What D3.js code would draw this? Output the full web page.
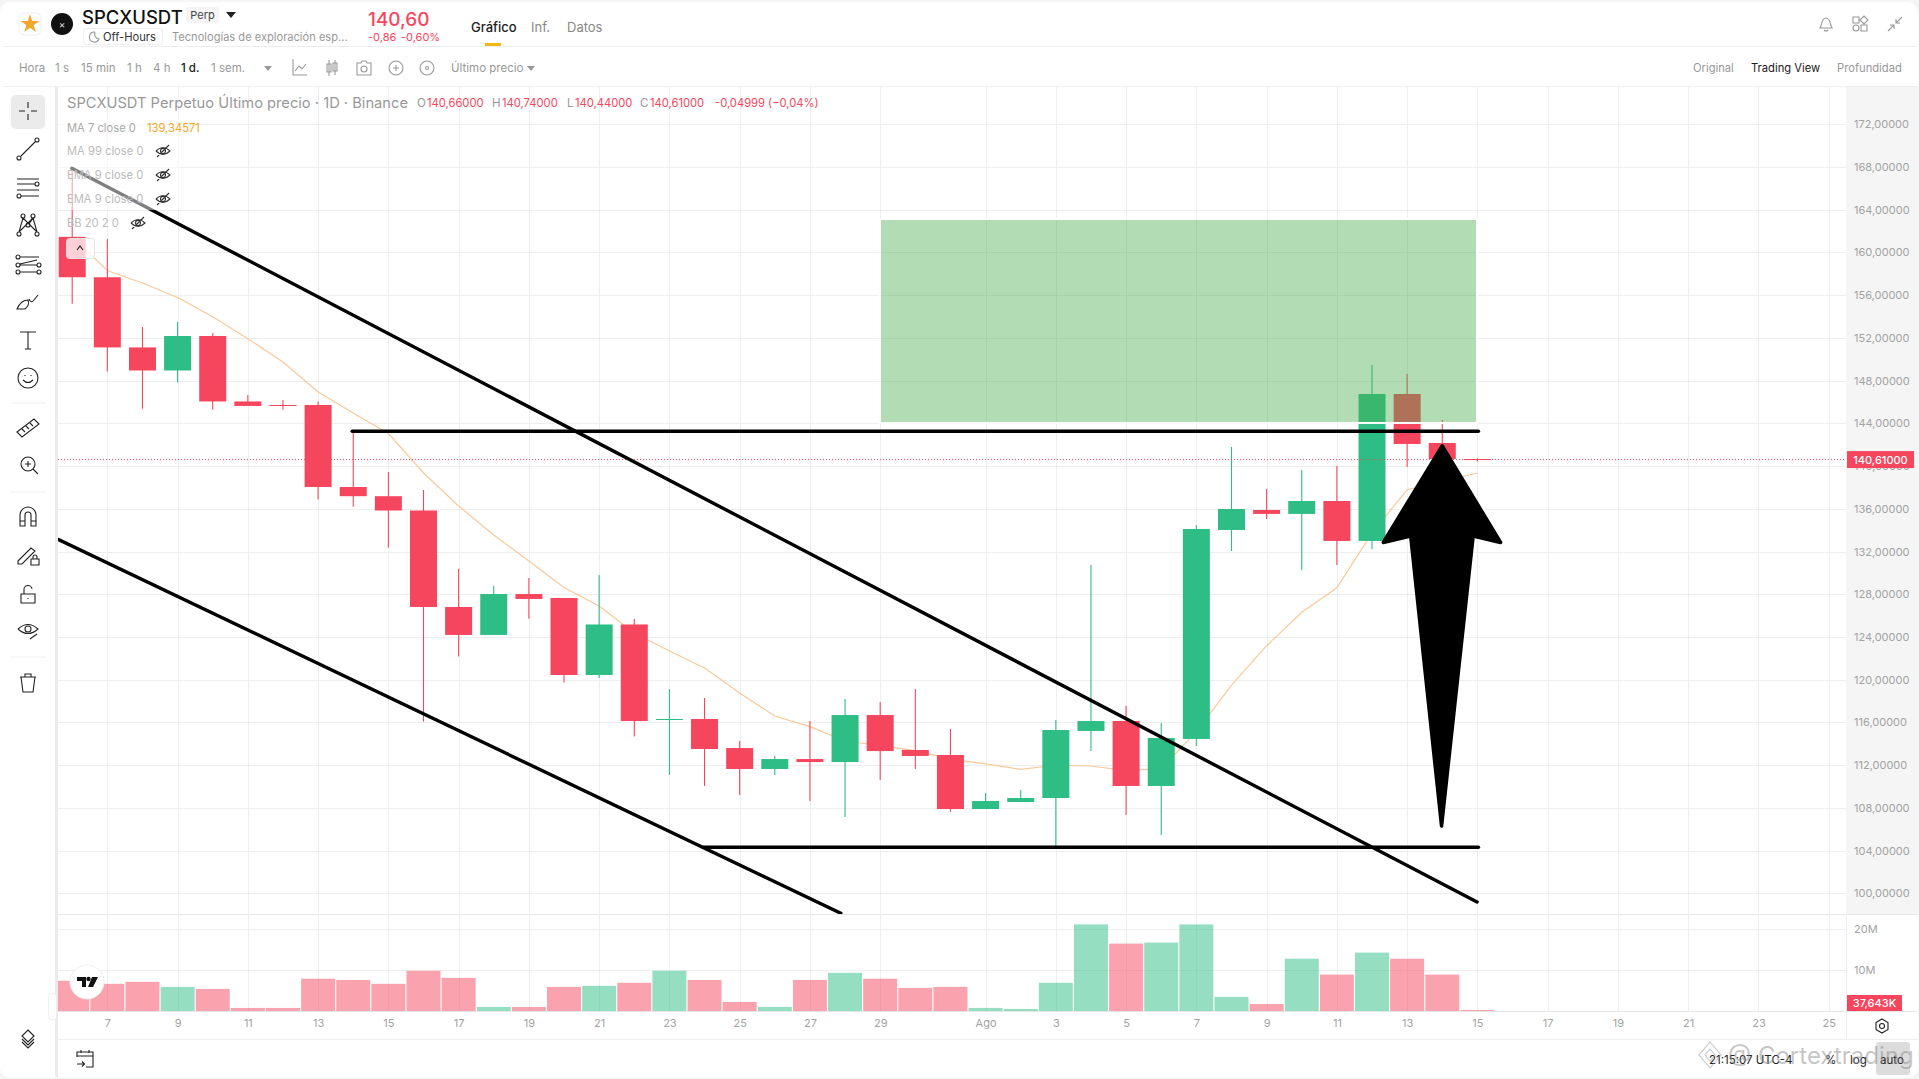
<!DOCTYPE html>
<html>
<head>
<meta charset="utf-8">
<style>
html, body { margin: 0; padding: 0; background: #f5f5f5; overflow: hidden; }
svg { display: block; font-family: Inter, Roboto, sans-serif; }
</style>
<script src="https://cdn.jsdelivr.net/npm/d3@7"></script>
</head>
<body>
<svg id="chart" width="1919" height="1079"></svg>
<script>
// candles, first one is Jul 6, last one is Aug 15
const open = [161.46,157.68,151.11,148.95,152.18,146.05,145.72,145.72,138.04,137.18,135.84,126.81,124.19,128.02,127.65,120.44,125.17,116.23,116.32,113.6,111.64,112.57,112.29,116.69,113.42,112.95,107.89,108.55,108.92,115.2,116.13,110.05,114.45,134.02,135.89,135.52,136.73,132.99,146.75,142.16,140.66];
const high = [167.7,161.27,153.02,153.49,152.46,146.66,146.19,146.05,143.29,139.45,137.76,130.38,128.77,129.52,127.65,129.8,125.68,119.13,118.29,114.26,112.86,116.13,118.19,117.91,119.13,115.38,109.39,109.67,116.23,130.74,117.54,115.95,134.48,141.79,137.86,139.64,140.01,149.47,148.62,144.32,140.74];
const low = [155.21,148.86,145.37,147.83,145.28,145.63,145.28,136.86,136.19,132.38,116.07,122.16,124.19,125.7,119.74,120.16,114.68,111.08,110.05,109.2,111.08,108.64,107.14,110.61,111.64,107.61,107.89,108.55,104.43,113.32,107.33,105.46,113.79,132.05,135.05,130.27,130.74,132.24,139.92,140.3,140.44];
const close = [157.68,151.11,148.95,152.18,146.05,145.63,145.63,138.04,137.18,135.84,126.81,124.19,128.02,127.56,120.44,125.17,116.13,116.32,113.51,111.64,112.57,112.29,116.69,113.32,112.86,107.89,108.64,108.92,115.29,116.13,110.05,114.54,134.11,135.98,135.52,136.73,132.99,146.75,142.07,140.66,140.61];
// volume in millions
const volume = [7.4,6.65,7.15,5.9,5.4,0.75,0.75,7.9,7.6,6.65,9.85,8.1,1,1,5.9,6.15,6.9,9.85,7.6,2.2,1,7.6,9.35,7.9,5.65,5.9,0.75,0.5,6.9,21.2,16.5,16.75,21.2,3.45,1.7,12.8,8.9,14.3,12.8,8.9,0.25];
const ma7 = [161.45,158.31,157.14,155.79,153.98,151.92,149.75,146.94,144.97,143.05,139.35,136.26,133.55,131.11,128.64,126.9,124.37,122.69,121.1,118.75,116.6,115.6,114.26,113.82,113.35,112.57,112.11,111.61,111.99,111.92,111.48,111.67,115.13,119.5,123.18,126.31,128.61,133.74,137.79,138.54,139.35];

// axis ticks, day index counted from Jul 6
const timeTickDays = [1,3,5,7,9,11,13,15,17,19,21,23,26,28,30,32,34,36,38,40,42,44,46,48,50];
const timeTickLabels = ['7','9','11','13','15','17','19','21','23','25','27','29','Ago','3','5','7','9','11','13','15','17','19','21','23','25'];
const priceTicks = [100,104,108,112,116,120,124,128,132,136,140,144,148,152,156,160,164,168,172];
const volumeTicks = [10,20];

// things drawn by hand on the chart, [day index, price]
const upperTrend = [[-0.01,167.88],[39.99,99.19]];
const lowerTrend = [[-0.39,133.12],[21.88,98.13]];
const resistance = [[7.97,143.26],[40.03,143.26]];
const support = [[17.96,104.31],[40.03,104.31]];
const targetZone = [[23.02,163.04],[39.96,144.13]];
const arrowShape = [[39,141.9],[40.66,132.85],[39.88,133.46],[38.98,106.3],[38.1,133.46],[37.32,132.85]];
const lastPrice = 140.61;

const RED = '#f6465d', GREEN = '#2ebd85', GRID = '#eeeeee', LABEL = '#a3a3a3';

const svg = d3.select('#chart');
const x = d3.scaleLinear().domain([0, 50]).range([72.2, 1828.7]);
const y = d3.scaleLinear().domain([100, 172]).range([893.3, 124.3]);
const yVol = d3.scaleLinear().domain([0, 20]).range([1011, 929.3]);
const bodyW = 27, volW = 34;
const days = d3.range(open.length);

// plain text helper, used for all the page chrome
function label(g, px, py, str, opts) {
    opts = opts || {};
    return g.append('text')
        .attr('x', px).attr('y', py)
        .attr('fill', opts.fill || '#999')
        .attr('font-size', opts.size || 11.5)
        .attr('font-weight', opts.weight || 400)
        .attr('text-anchor', opts.anchor || 'start')
        .attr('dominant-baseline', 'central')
        .text(str);
}
// stroked icon from a path string, placed with its own transform
function icon(g, tx, ty, d, color) {
    g.append('path')
        .attr('transform', `translate(${tx},${ty})`)
        .attr('d', d)
        .attr('fill', 'none')
        .attr('stroke', color || '#222')
        .attr('stroke-width', 1.1);
}
// little ring used on the drawing tools
function ring(cx, cy) {
    return `M${cx + 2},${cy} a2,2 0 1 1 -4,0 a2,2 0 1 1 4,0 `;
}

// card background and panel separators
svg.append('rect').attr('x', 0).attr('y', 2).attr('width', 1918).attr('height', 1076).attr('rx', 10).attr('fill', '#fff');
svg.append('rect').attr('x', 1846).attr('y', 87).attr('width', 72).attr('height', 827).attr('fill', '#f5f5f5');
svg.append('rect').attr('x', 55).attr('y', 87).attr('width', 3).attr('height', 990).attr('fill', '#ebebeb');
[46, 86, 1039].forEach(v => svg.append('line').attr('x1', v == 1039 ? 58 : 2).attr('x2', 1917).attr('y1', v + .5).attr('y2', v + .5).attr('stroke', GRID));
[914, 1011].forEach(v => svg.append('line').attr('x1', 58).attr('x2', 1917).attr('y1', v + .5).attr('y2', v + .5).attr('stroke', '#e6e6e6'));
svg.append('line').attr('x1', 1846.5).attr('x2', 1846.5).attr('y1', 914).attr('y2', 1039).attr('stroke', GRID);

const defs = svg.append('defs');
defs.append('clipPath').attr('id', 'mainClip').append('rect').attr('x', 58).attr('y', 87).attr('width', 1788).attr('height', 827);
defs.append('clipPath').attr('id', 'volClip').append('rect').attr('x', 58).attr('y', 915).attr('width', 1788).attr('height', 96);

// grid, drawn with axes so that they follow the scales
const gridMain = svg.append('g');
gridMain.append('g').attr('transform', 'translate(58,0)')
    .call(d3.axisRight(y).tickValues(priceTicks).tickSize(1788).tickFormat(''))
    .call(g => g.select('.domain').remove())
    .selectAll('line').attr('stroke', GRID).attr('shape-rendering', 'crispEdges');
gridMain.append('g').attr('transform', 'translate(0,87)')
    .call(d3.axisBottom(x).tickValues(timeTickDays).tickSize(924).tickFormat(''))
    .call(g => g.select('.domain').remove())
    .selectAll('line').attr('stroke', GRID).attr('shape-rendering', 'crispEdges');
gridMain.append('g').attr('transform', 'translate(58,0)')
    .call(d3.axisRight(yVol).tickValues(volumeTicks).tickSize(1788).tickFormat(''))
    .call(g => g.select('.domain').remove())
    .selectAll('line').attr('stroke', GRID).attr('shape-rendering', 'crispEdges');

// volume bars
svg.append('g').attr('clip-path', 'url(#volClip)').selectAll('rect').data(days).join('rect')
    .attr('x', d => x(d) - volW / 2)
    .attr('width', volW)
    .attr('y', d => yVol(volume[d]))
    .attr('height', d => yVol(0) - yVol(volume[d]))
    .attr('fill', d => close[d] >= open[d] ? GREEN : RED)
    .attr('fill-opacity', .5);

const plot = svg.append('g').attr('clip-path', 'url(#mainClip)');

// MA 7
const maLine = d3.line().x((d, i) => x(i)).y(d => y(d));
plot.append('path').attr('d', maLine(ma7)).attr('fill', 'none').attr('stroke', '#f8c99a').attr('stroke-width', 1.2);

// candles
plot.append('g').selectAll('line').data(days).join('line')
    .attr('x1', d => x(d)).attr('x2', d => x(d))
    .attr('y1', d => y(high[d])).attr('y2', d => y(low[d]))
    .attr('stroke', d => close[d] >= open[d] ? GREEN : RED)
    .attr('stroke-width', 1.1);
plot.append('g').selectAll('rect').data(days).join('rect')
    .attr('x', d => x(d) - bodyW / 2)
    .attr('width', bodyW)
    .attr('y', d => y(Math.max(open[d], close[d])))
    .attr('height', d => Math.max(1, Math.abs(y(open[d]) - y(close[d]))))
    .attr('fill', d => close[d] >= open[d] ? GREEN : RED);

// last price line
plot.append('line').attr('x1', 58).attr('x2', 1846).attr('y1', y(lastPrice)).attr('y2', y(lastPrice))
    .attr('stroke', RED).attr('stroke-width', 1).attr('stroke-dasharray', '1 2');

// green zone, it has a thin white border outside
plot.append('rect')
    .attr('x', x(targetZone[0][0])).attr('y', y(targetZone[0][1]))
    .attr('width', x(targetZone[1][0]) - x(targetZone[0][0]))
    .attr('height', y(targetZone[1][1]) - y(targetZone[0][1]))
    .attr('fill', 'rgba(76,175,80,.43)');
plot.append('rect')
    .attr('x', x(targetZone[0][0]) - 1).attr('y', y(targetZone[0][1]) - 1)
    .attr('width', x(targetZone[1][0]) - x(targetZone[0][0]) + 2)
    .attr('height', y(targetZone[1][1]) - y(targetZone[0][1]) + 2)
    .attr('fill', 'none').attr('stroke', '#fff').attr('stroke-width', 2);

// drawn lines
const drawn = d3.line().x(d => x(d[0])).y(d => y(d[1]));
[upperTrend, lowerTrend, resistance, support].forEach(seg => {
    plot.append('path').attr('d', drawn(seg)).attr('stroke', '#000').attr('stroke-width', 3.4).attr('fill', 'none').attr('stroke-linecap', 'round');
});
plot.append('path').attr('d', drawn(arrowShape) + 'Z').attr('fill', '#000').attr('stroke', '#000').attr('stroke-width', 3.5).attr('stroke-linejoin', 'round');

// legend fades what is under it
svg.append('rect').attr('x', 58).attr('y', 114).attr('width', 122).attr('height', 96).attr('fill', '#fff').attr('fill-opacity', .5);

// price axis
const fmtPrice = d => d3.format('.5f')(d).replace('.', ',');
svg.append('g').attr('transform', 'translate(1846,0)')
    .call(d3.axisRight(y).tickValues(priceTicks).tickSize(0).tickPadding(8).tickFormat(fmtPrice))
    .call(g => g.select('.domain').remove())
    .selectAll('text').attr('fill', LABEL).attr('font-size', 11).attr('font-family', 'Inter, Roboto, sans-serif');
// volume axis
svg.append('g').attr('transform', 'translate(1846,0)')
    .call(d3.axisRight(yVol).tickValues(volumeTicks).tickSize(0).tickPadding(8).tickFormat(d => d + 'M'))
    .call(g => g.select('.domain').remove())
    .selectAll('text').attr('fill', LABEL).attr('font-size', 11).attr('font-family', 'Inter, Roboto, sans-serif');
// time axis
svg.append('g').attr('transform', 'translate(0,1011)')
    .call(d3.axisBottom(x).tickValues(timeTickDays).tickSize(0).tickPadding(8).tickFormat((d, i) => timeTickLabels[i]))
    .call(g => g.select('.domain').remove())
    .selectAll('text').attr('fill', LABEL).attr('font-size', 11).attr('font-family', 'Inter, Roboto, sans-serif');

// price and volume tags
svg.append('rect').attr('x', 1847).attr('y', y(lastPrice) - 8.5).attr('width', 67).attr('height', 17).attr('fill', RED);
label(svg, 1880.5, y(lastPrice), fmtPrice(lastPrice), { fill: '#fff', anchor: 'middle', weight: 500, size: 11 });
svg.append('rect').attr('x', 1847).attr('y', 995).attr('width', 55).attr('height', 16).attr('fill', RED);
label(svg, 1874.5, 1003, '37,643K', { fill: '#fff', anchor: 'middle', weight: 500, size: 11 });
icon(svg, 1882, 1026, 'M0,-7 L6,-3.5 L6,3.5 L0,7 L-6,3.5 L-6,-3.5 Z M2.5,0 A2.5,2.5 0 1 1 -2.5,0 A2.5,2.5 0 1 1 2.5,0', '#222');

// header
const head = svg.append('g');
head.append('rect').attr('x', 19).attr('y', 13).attr('width', 22).attr('height', 22).attr('rx', 5).attr('fill', '#fff').attr('stroke', '#eee');
head.append('path').attr('transform', 'translate(30,24)').attr('fill', '#f0a92e')
    .attr('d', d3.symbol().type(d3.symbolStar).size(110)());
head.append('circle').attr('cx', 62).attr('cy', 24).attr('r', 11).attr('fill', '#111');
label(head, 62, 24, '×', { fill: '#ddd', anchor: 'middle', size: 10 });
label(head, 82, 17, 'SPCXUSDT', { fill: '#111', size: 18.5, weight: 500 });
head.append('rect').attr('x', 186).attr('y', 7).attr('width', 33).attr('height', 16).attr('rx', 2).attr('fill', '#f5f5f5');
label(head, 202.5, 15, 'Perp', { fill: '#444', size: 11, anchor: 'middle' });
head.append('path').attr('d', 'M226,12 L236,12 L231,18 Z').attr('fill', '#222');
head.append('rect').attr('x', 83.5).attr('y', 28.5).attr('width', 79).attr('height', 16).attr('rx', 3).attr('fill', '#fff').attr('stroke', '#eee');
icon(head, 94, 37, 'M1,-5 A5,5 0 1 0 5,2 A5,5 0 0 1 1,-5', '#999');
label(head, 103, 37, 'Off-Hours', { fill: '#333', size: 11.2 });
label(head, 172, 37, 'Tecnologías de exploración esp...', { fill: '#999', size: 11.1 });
label(head, 368, 19, '140,60', { fill: RED, size: 19, weight: 500 });
label(head, 368, 37, '-0,86', { fill: RED, size: 11 });
label(head, 401, 37, '-0,60%', { fill: RED, size: 11 });
label(head, 471, 27, 'Gráfico', { fill: '#222', size: 13, weight: 500 });
label(head, 531, 27, 'Inf.', { fill: '#888', size: 13 });
label(head, 567, 27, 'Datos', { fill: '#888', size: 13 });
head.append('rect').attr('x', 485).attr('y', 43).attr('width', 16).attr('height', 3).attr('fill', '#f0b90b');
icon(head, 1826, 24, 'M-6,4 C-4,2 -5,-6 0,-6 C5,-6 4,2 6,4 Z M-2,6 Q0,8 2,6', '#999');
icon(head, 1860, 24, 'M-7,-7 H-1 V-1 H-7 Z M4,-8 L8,-4 L4,0 L0,-4 Z M-1,4 A3,3 0 1 1 -7,4 A3,3 0 1 1 -1,4 M1,1 H7 V7 H1 Z', '#999');
icon(head, 1895, 24, 'M1,-1 L7,-7 M1,-5 V-1 H5 M-1,1 L-7,7 M-5,1 H-1 V5', '#999');

// second toolbar
const bar = svg.append('g');
[['Hora', 19], ['1 s', 55], ['15 min', 81], ['1 h', 127], ['4 h', 153], ['1 sem.', 211]].forEach(d => label(bar, d[1], 68, d[0], { fill: '#999' }));
label(bar, 181, 68, '1 d.', { fill: '#222', weight: 500 });
bar.append('path').attr('d', 'M264,66 L272,66 L268,71 Z').attr('fill', '#999');
icon(bar, 300, 68, 'M-7,-9 V7 H7 M-5,3 L-1,-2 L2,1 L6,-4', '#999');
icon(bar, 332, 68, 'M-5,-4 H-1 V4 H-5 Z M-3,-8 V8 M1,-5 H5 V3 H1 Z M3,-8 V7', '#999');
icon(bar, 364, 68, 'M-7,-5 H-3 L-2,-7 H2 L3,-5 H7 V7 H-7 Z M3,1 A3,3 0 1 1 -3,1 A3,3 0 1 1 3,1', '#999');
icon(bar, 396, 68, 'M7,0 A7,7 0 1 1 -7,0 A7,7 0 1 1 7,0 M-3,0 H3 M0,-3 V3', '#999');
icon(bar, 427, 68, 'M7,0 A7,7 0 1 1 -7,0 A7,7 0 1 1 7,0 M1.5,0 A1.5,1.5 0 1 1 -1.5,0 A1.5,1.5 0 1 1 1.5,0', '#999');
label(bar, 451, 68, 'Último precio', { fill: '#999' });
bar.append('path').attr('d', 'M527,66 L535,66 L531,71 Z').attr('fill', '#999');
label(bar, 1693, 68, 'Original', { fill: '#999', size: 11.2 });
label(bar, 1751, 68, 'Trading View', { fill: '#222', size: 11.2 });
label(bar, 1837, 68, 'Profundidad', { fill: '#999', size: 11.2 });

// legend
const lg = svg.append('g');
label(lg, 67, 103, 'SPCXUSDT Perpetuo Último precio · 1D · Binance', { fill: '#999', size: 14.7 });
[['O', 417, '140,66000'], ['H', 492, '140,74000'], ['L', 567, '140,44000'], ['C', 640, '140,61000']].forEach(d => {
    label(lg, d[1], 103, d[0], { fill: '#999', size: 11.5 });
    label(lg, d[1] + (d[0] == 'L' ? 8 : 10), 103, d[2], { fill: RED, size: 11.2 });
});
label(lg, 715, 103, '-0,04999 (−0,04%)', { fill: RED, size: 11.2 });
label(lg, 67, 128, 'MA 7 close 0', { fill: '#aaa', size: 11.2 });
label(lg, 147, 128, '139,34571', { fill: '#f5a623', size: 11.2 });
const eye = 'M-7,0 Q0,-7 7,0 Q0,7 -7,0 M2.5,0 A2.5,2.5 0 1 1 -2.5,0 A2.5,2.5 0 1 1 2.5,0 M-6,6 L6,-6';
[['MA 99 close 0', 151, 163], ['EMA 9 close 0', 175, 163], ['EMA 9 close 0', 199, 163], ['BB 20 2 0', 223, 138]].forEach(d => {
    label(lg, 67, d[1], d[0], { fill: '#bbb', size: 11.2 });
    icon(lg, d[2], d[1], eye, '#333');
});
lg.append('rect').attr('x', 66.5).attr('y', 238.5).attr('width', 28).attr('height', 20).attr('rx', 3).attr('fill', '#fff').attr('fill-opacity', .75).attr('stroke', '#e4e4e4');
icon(lg, 80, 248, 'M-3,2 L0,-2 L3,2', '#222');

// left toolbar
const tb = svg.append('g');
tb.append('rect').attr('x', 11).attr('y', 95).attr('width', 34).attr('height', 34).attr('rx', 5).attr('fill', '#ebebeb');
[
    [111, 'M0,-9 V-3 M0,3 V9 M-9,0 H-3 M3,0 H9'],
    [149, 'M-7,7 L7,-7 ' + ring(-9, 9) + ring(9, -9)],
    [187, 'M-11,-8 H11 M-11,-3 H7 M-11,3 H11 M-7,9 H11 ' + ring(9, -3) + ring(-9, 9)],
    [225, 'M-9,7 L-5,-7 L9,7 M5,-7 L-9,7 M-5,-7 L1,-1 L5,-7 M5,-7 L9,7 ' + ring(-9, 9) + ring(-5, -9) + ring(5, -9) + ring(9, 9) + ring(0, 0)],
    [264, 'M-8,-7 H11 M-8,0 L9,-4 M-8,1 H9 M-8,8 H9 ' + ring(-10, -7) + ring(-10, 1) + ring(-10, 8) + ring(11, 1) + ring(11, 8)],
    [302, 'M-11,7 Q-7,-2 0,-2 Q2,3 -3,7 Z M1,-3 Q3,2 6,-2 L10,-7'],
    [340, 'M-8,-8 H8 M0,-8 V9 M-3,9 H3'],
    [378, 'M10,0 A10,10 0 1 1 -10,0 A10,10 0 1 1 10,0 M-5,2 Q0,7 5,2 M-3,-3 V-2 M3,-3 V-2'],
    [428, 'M-11,4 L6,-9 L11,-4 L-6,9 Z M-6,1 L-3,4 M-2,-2 L1,1 M2,-5 L5,-2'],
    [466, 'M7,-2 A7,7 0 1 1 -7,-2 A7,7 0 1 1 7,-2 M-3,-2 H3 M0,-5 V1 M5,3 L10,8'],
    [518, 'M-8,8 V-3 A8,8 0 0 1 8,-3 V8 H3 V-3 A3,3 0 0 0 -3,-3 V8 Z M-8,3 H-3 M3,3 H8'],
    [556, 'M-10,5 L3,-8 L7,-5 L-6,8 H-10 Z M3,3 H11 V9 H3 Z M5,3 V1 A2,2 0 0 1 9,1 V3'],
    [595, 'M-7,-1 H7 V8 H-7 Z M-4,-1 V-5 A4,4 0 0 1 4,-6 M0,3 V4'],
    [631, 'M-10,-2 Q0,-11 10,-2 Q0,7 -10,-2 M3,-2 A3,3 0 1 1 -3,-2 A3,3 0 1 1 3,-2 M2,8 L9,3'],
    [683, 'M-8,-6 H8 M-3,-6 V-9 H3 V-6 M-7,-6 L-5,9 H5 L7,-6'],
    [1039, 'M0,-9 L6,-3 L0,3 L-6,-3 Z M-6,0 L0,6 L6,0 M-6,3 L0,9 L6,3']
].forEach(d => icon(tb, 28, d[0], d[1]));
[403, 492, 657].forEach(v => tb.append('line').attr('x1', 11).attr('x2', 46).attr('y1', v).attr('y2', v).attr('stroke', '#eee'));

// bottom row
const foot = svg.append('g');
icon(foot, 85, 1059, 'M-8,-2 V-7 H8 V8 H1 M-8,-3 H8 M-4,-9 V-6 M4,-9 V-6 M-8,5 H-1 M-3,2.5 L-0.5,5 L-3,7.5', '#222');
foot.append('rect').attr('x', 48.5).attr('y', 993.5).attr('width', 8).attr('height', 26).attr('rx', 3).attr('fill', '#fff').attr('stroke', '#eee');
foot.append('circle').attr('cx', 87).attr('cy', 982).attr('r', 17).attr('fill', '#fff').attr('stroke', '#eee');
foot.append('path').attr('d', 'M77,977 H86 V987 H82 V981 H77 Z M92,977 H98 L93,987 H88 Z').attr('fill', '#111');
foot.append('circle').attr('cx', 88.5).attr('cy', 979).attr('r', 2.2).attr('fill', '#111');
foot.append('rect').attr('x', 1876).attr('y', 1042).attr('width', 34).attr('height', 33).attr('rx', 3).attr('fill', '#dcdcdc');
label(foot, 1709, 1060, '21:15:07 UTC-4', { fill: '#222' });
label(foot, 1825, 1060, '%', { fill: '#222' });
label(foot, 1850, 1060, 'log', { fill: '#222' });
label(foot, 1880, 1060, 'auto', { fill: '#222' });
// watermark
icon(foot, 1710, 1055, 'M0,-13 L11,0 L0,13 L-11,0 Z M0,-6 L5,0 L0,6 L-5,0 Z', 'rgba(150,150,150,.55)');
label(foot, 1728, 1055, '@ Cortextrading', { fill: 'rgba(140,140,140,.5)', size: 24 });
</script>
</body>
</html>
